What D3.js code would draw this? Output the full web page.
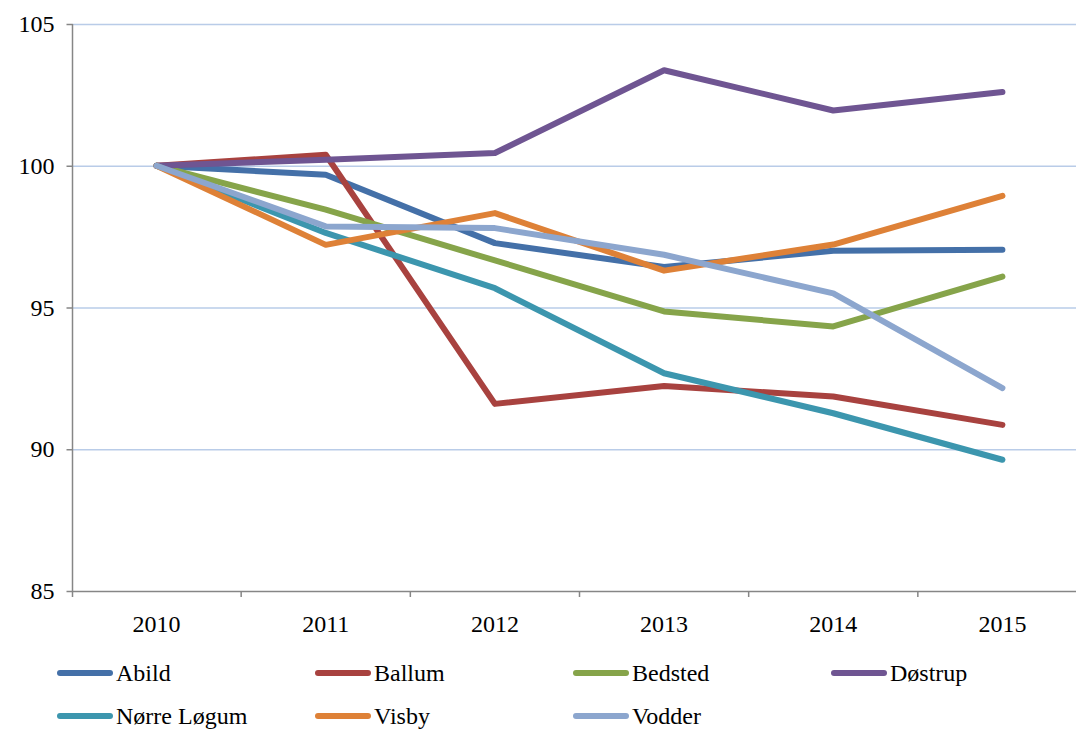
<!DOCTYPE html>
<html>
<head>
<meta charset="utf-8">
<script src="https://cdn.jsdelivr.net/npm/d3@7/dist/d3.min.js"></script>
<style>
  body { margin: 0; background: #fff; font-family: "Liberation Serif", serif; }
</style>
</head>
<body>
<div id="chart"></div>
<script>
// data (index, 2010 = 100)
var years = ["2010", "2011", "2012", "2013", "2014", "2015"];
var names = ["Abild", "Ballum", "Bedsted", "Døstrup", "Nørre Løgum", "Visby", "Vodder"];
var abild      = [100, 99.68, 97.27, 96.43, 97.00, 97.04];
var ballum     = [100, 100.39, 91.60, 92.23, 91.86, 90.86];
var bedsted    = [100, 98.45, 96.66, 94.86, 94.33, 96.09];
var dostrup    = [100, 100.21, 100.45, 103.37, 101.95, 102.60];
var norreLogum = [100, 97.63, 95.68, 92.68, 91.27, 89.63];
var visby      = [100, 97.21, 98.33, 96.30, 97.22, 98.94];
var vodder     = [100, 97.86, 97.80, 96.86, 95.50, 92.16];
var yTicks = [85, 90, 95, 100, 105];
var colors = ["#4470a8", "#a8423f", "#86a44a", "#6f5592", "#3c96ae", "#de8137", "#8ca6ce"];

var seriesValues = [abild, ballum, bedsted, dostrup, norreLogum, visby, vodder];

var svgWidth = 1076;
var svgHeight = 729;
var serif = "Liberation Serif, serif";

var margin = { top: 24, left: 72 };
var plotRight = 1087;   // plot area runs past the crop on the right
var plotBottom = 591;

var svg = d3.select("#chart")
  .append("svg")
  .attr("width", svgWidth)
  .attr("height", svgHeight)
  .style("font-family", serif);

var xScale = d3.scalePoint()
  .domain(years)
  .range([margin.left, plotRight])
  .padding(0.5);

var yScale = d3.scaleLinear()
  .domain([85, 105])
  .range([plotBottom, margin.top]);

// horizontal gridlines
svg.append("g")
  .selectAll("line")
  .data(yTicks.slice(1))
  .enter()
  .append("line")
  .attr("x1", margin.left)
  .attr("x2", plotRight)
  .attr("y1", function(d) { return yScale(d) + 0.5; })
  .attr("y2", function(d) { return yScale(d) + 0.5; })
  .attr("stroke", "#b9cce8")
  .attr("stroke-width", 1.5);

// y axis
var yAxis = d3.axisLeft(yScale).tickValues(yTicks).tickSize(6).tickPadding(12);
var yG = svg.append("g")
  .attr("transform", "translate(" + (margin.left + 0.5) + ",0)")
  .call(yAxis)
  .attr("font-family", null)
  .attr("font-size", null);
yG.select(".domain").attr("stroke", "#868686").attr("stroke-width", 1.5)
  .attr("d", "M0," + margin.top + "V" + (plotBottom + 6));
yG.selectAll(".tick line").attr("stroke", "#868686").attr("stroke-width", 1.5);
yG.selectAll(".tick text")
  .style("font-family", serif)
  .style("font-size", "24px")
  .attr("fill", "#000");

// x axis: ticks between categories
var bandStep = xScale.step();
var xBounds = d3.range(years.length + 1).map(function(i) { return margin.left + i * bandStep; });
var xG = svg.append("g");
xG.append("line")
  .attr("x1", margin.left)
  .attr("x2", plotRight)
  .attr("y1", plotBottom + 0.5)
  .attr("y2", plotBottom + 0.5)
  .attr("stroke", "#868686")
  .attr("stroke-width", 1.5);
xG.selectAll(".xtick")
  .data(xBounds.slice(1))
  .enter()
  .append("line")
  .attr("x1", function(d) { return d; })
  .attr("x2", function(d) { return d; })
  .attr("y1", plotBottom)
  .attr("y2", plotBottom + 6)
  .attr("stroke", "#868686")
  .attr("stroke-width", 1.5);
xG.selectAll(".xlabel")
  .data(years)
  .enter()
  .append("text")
  .attr("x", function(d) { return xScale(d); })
  .attr("y", plotBottom + 41)
  .attr("text-anchor", "middle")
  .style("font-family", serif)
  .style("font-size", "24px")
  .text(function(d) { return d; });

// lines
var line = d3.line()
  .x(function(d, i) { return xScale(years[i]); })
  .y(function(d) { return yScale(d); });

svg.append("g")
  .selectAll("path")
  .data(seriesValues)
  .enter()
  .append("path")
  .attr("d", line)
  .attr("fill", "none")
  .attr("stroke", function(d, i) { return colors[i]; })
  .attr("stroke-width", 6)
  .attr("stroke-linejoin", "round")
  .attr("stroke-linecap", "round");

// legend, 4 columns
var legend = svg.append("g");
var item = legend.selectAll("g")
  .data(names)
  .enter()
  .append("g")
  .attr("transform", function(d, i) {
    return "translate(" + (60 + (i % 4) * 258) + "," + (673 + Math.floor(i / 4) * 43) + ")";
  });
item.append("line")
  .attr("x1", 0)
  .attr("x2", 50)
  .attr("stroke", function(d, i) { return colors[i]; })
  .attr("stroke-width", 6)
  .attr("stroke-linecap", "round");
item.append("text")
  .attr("x", 56)
  .attr("dy", "0.35em")
  .style("font-family", serif)
  .style("font-size", "24px")
  .text(function(d) { return d; });
</script>
</body>
</html>
